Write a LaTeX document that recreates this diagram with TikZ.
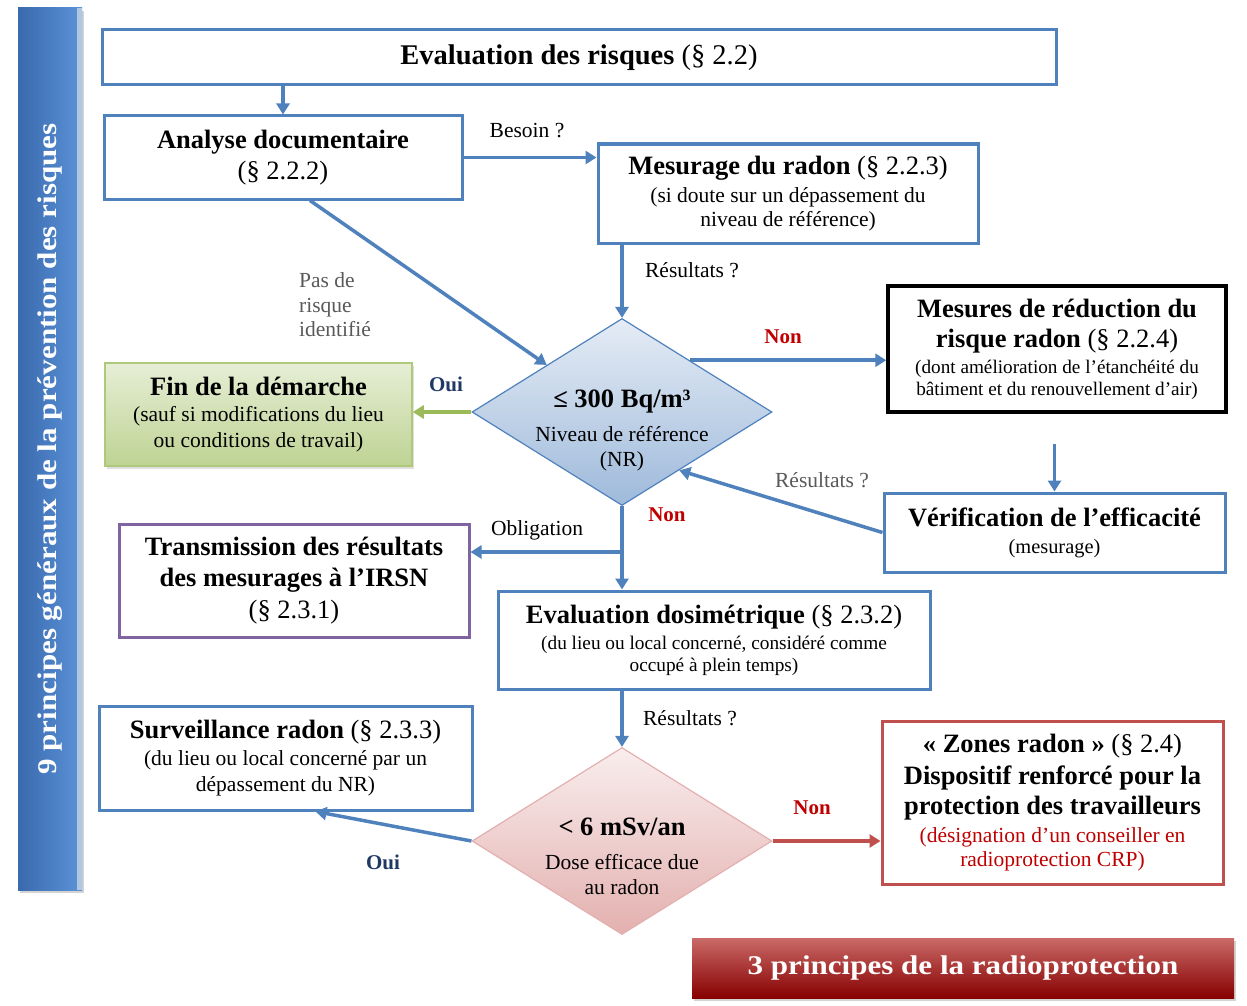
\documentclass[tikz,border=0pt]{standalone}
\usepackage{fontspec}
\setmainfont{Liberation Serif}
\usetikzlibrary{arrows.meta,shapes.geometric,shadows,calc}

\definecolor{bleu}{HTML}{4F81BD}
\definecolor{bleufonce}{HTML}{3A69AD}
\definecolor{bleuclair}{HTML}{5B93D9}
\definecolor{vert}{HTML}{9BBB59}
\definecolor{violet}{HTML}{8064A2}
\definecolor{rougecadre}{HTML}{C0504D}
\definecolor{rougetexte}{HTML}{C00000}
\definecolor{marine}{HTML}{1F3864}
\definecolor{gris}{HTML}{595959}

\newcommand{\hdfont}{\fontsize{26.5}{26.5}\selectfont}

\begin{document}
\begin{tikzpicture}[x=1pt,y=-1pt,
  boite/.style={draw=bleu,line width=3pt,fill=white,align=center,inner sep=0pt,
    font=\fontsize{21.5}{24}\selectfont},
  losange/.style={diamond,aspect=1.6,inner sep=0pt,line width=1.2pt,
    minimum width=300pt,minimum height=187pt},
  texte/.style={align=center,inner sep=0pt,font=\fontsize{21.5}{25}\selectfont},
  fleche/.style={draw=bleu,line width=3.5pt,-{Triangle[length=11pt,width=13pt]}},
  etiq/.style={font=\fontsize{21.5}{24.5}\selectfont,inner sep=1pt},
  reponse/.style={font=\fontsize{21}{21}\selectfont\bfseries,inner sep=1pt},
  bandeau/.style={inner sep=0pt,drop shadow={opacity=0.35,shadow xshift=2pt,shadow yshift=-3pt}},
  bandeautexte/.style={text=white,font=\fontsize{27}{27}\selectfont\bfseries,inner sep=0pt}]

\useasboundingbox (0,0) rectangle (1247,1006);

% Bandeaux
\node[bandeau,left color=bleufonce,right color=bleuclair,minimum width=64pt,
  minimum height=882pt] (prev) at (50,449) {};
\fill[bleu!45!white] (prev.north east) rectangle ([xshift=-5pt]prev.south east);
\node[bandeautexte,rotate=90] (prevtexte) at (prev)
  {\scalebox{1.15}[1]{9 principes généraux de la prévention des risques}};
\node[bandeau,top color=rougecadre!85!white,bottom color=rougetexte!70!black,
  minimum width=542pt,minimum height=60pt] (radio) at (963,968) {};
\node[bandeautexte] (radiotexte) at (radio)
  {\scalebox{1.15}[1]{3 principes de la radioprotection}};

% Boites
\node[boite,minimum width=954pt,minimum height=55pt] (eval) at (579,57.5)
  {\fontsize{28.5}{28.5}\selectfont\textbf{Evaluation des risques} (§ 2.2)};
\node[boite,minimum width=358pt,minimum height=83pt] (analyse) at (283,157.5)
  {{\hdfont\textbf{Analyse documentaire}}\\[6pt]{\hdfont (§ 2.2.2)}};
\node[boite,minimum width=380pt,minimum height=99pt] (mesurage) at (788,193.5)
  {{\hdfont\textbf{Mesurage du radon} (§ 2.2.3)}\\[4pt](si doute sur un dépassement du\\niveau de référence)};
\node[boite,draw=black,line width=3.5pt,minimum width=338pt,minimum height=126pt,
  font=\fontsize{19.2}{22}\selectfont] (mesures) at (1057,349)
  {{\hdfont\textbf{Mesures de réduction du}}\\[8pt]{\hdfont\textbf{risque radon} (§ 2.2.4)}\\[4pt](dont amélioration de l’étanchéité du\\bâtiment et du renouvellement d’air)};
\node[boite,draw=vert!80!white,line width=1.5pt,top color=vert!25!white,
  bottom color=vert!65!white,minimum width=307pt,minimum height=103pt,
  drop shadow={opacity=0.25,shadow xshift=2pt,shadow yshift=-3pt}] (fin) at (258.5,414.5)
  {{\hdfont\textbf{Fin de la démarche}}\\[2pt](sauf si modifications du lieu\\[2pt]ou conditions de travail)};
\node[boite,minimum width=341pt,minimum height=79pt] (verif) at (1054.5,532.5)
  {{\hdfont\textbf{Vérification de l’efficacité}}\\[3pt]{\fontsize{20.4}{20.4}\selectfont(mesurage)}};
\node[boite,draw=violet,minimum width=350pt,minimum height=113pt] (transm) at (294,580.5)
  {{\hdfont\textbf{Transmission des résultats}}\\[7pt]{\hdfont\textbf{des mesurages à l’IRSN}}\\[6pt]{\hdfont (§ 2.3.1)}};
\node[boite,minimum width=432pt,minimum height=98pt,
  font=\fontsize{19.3}{22}\selectfont] (dosi) at (714,640)
  {{\hdfont\textbf{Evaluation dosimétrique} (§ 2.3.2)}\\[4pt](du lieu ou local concerné, considéré comme\\occupé à plein temps)};
\node[boite,minimum width=373pt,minimum height=104pt] (surv) at (285.5,758)
  {{\hdfont\textbf{Surveillance radon} (§ 2.3.3)}\\[3pt](du lieu ou local concerné par un\\[2pt]dépassement du NR)};
\node[boite,draw=rougecadre,minimum width=341pt,minimum height=163pt] (zones) at (1052.5,802.5)
  {{\hdfont\textbf{« Zones radon »} (§ 2.4)}\\[6pt]{\hdfont\textbf{Dispositif renforcé pour la}}\\[5pt]{\hdfont\textbf{protection des travailleurs}}\\[4pt]{\color{rougetexte}(désignation d’un conseiller en}\\{\color{rougetexte}radioprotection CRP)}};

% Losanges
\node[losange,draw=bleu,top color=bleu!15!white,bottom color=bleu!55!white] (nr) at (622,412) {};
\node[texte] (nrtexte) at ([yshift=-18pt]nr.center)
  {{\hdfont\textbf{≤ 300 Bq/m³}}\\[9pt]Niveau de référence\\(NR)};
\node[losange,draw=rougecadre!45!white,top color=rougecadre!10!white,
  bottom color=rougecadre!45!white] (dose) at (622,841) {};
\node[texte] (dosetexte) at ([yshift=-15pt]dose.center)
  {{\hdfont\textbf{< 6 mSv/an}}\\[9pt]Dose efficace due\\au radon};

% Fleches
\coordinate (nrsortie) at ($(nr.north)!0.45!(nr.east)$);
\coordinate (nrretour) at ($(nr.east)!0.62!(nr.south)$);
\coordinate (embranch) at (622,552);
\draw[fleche] (eval.south -| analyse.north) -- (analyse.north);
\draw[fleche] (analyse.east) -- (analyse.east -| mesurage.west);
\draw[fleche] (nr.north |- mesurage.south) -- (nr.north);
\draw[fleche] ([xshift=27pt]analyse.south) -- (nr.north west);
\draw[fleche] (nrsortie) -- (nrsortie -| mesures.west);
\draw[fleche,draw=vert] (nr.west) -- (nr.west -| fin.east);
\draw[fleche] ([yshift=-30pt]mesures.south -| verif.north) -- (verif.north);
\draw[fleche] (verif.west) -- (nrretour);
\draw[fleche] (nr.south) -- (nr.south |- dosi.north);
\draw[fleche] (embranch) -- (embranch -| transm.east);
\draw[fleche] (dose.north |- dosi.south) -- (dose.north);
\draw[fleche] (dose.west) -- ([xshift=30pt]surv.south);
\draw[fleche,draw=rougecadre] (dose.east) -- (dose.east -| zones.west);

% Etiquettes
\node[etiq] (besoin) at (527,131) {Besoin ?};
\node[etiq] (res1) at (692,270) {Résultats ?};
\node[etiq,text=gris,align=left,anchor=west] (pasrisque) at (298,305) {Pas de\\risque\\identifié};
\node[reponse,text=rougetexte] (non1) at (783,337) {Non};
\node[reponse,text=marine] (oui1) at (446,384) {Oui};
\node[etiq,text=gris] (res2) at (822,480) {Résultats ?};
\node[reponse,text=rougetexte] (non2) at (667,515) {Non};
\node[etiq] (oblig) at (537,530) {Obligation};
\node[etiq] (res3) at (690,718) {Résultats ?};
\node[reponse,text=marine] (oui2) at (383,862) {Oui};
\node[reponse,text=rougetexte] (non3) at (812,808) {Non};

\end{tikzpicture}
\end{document}
